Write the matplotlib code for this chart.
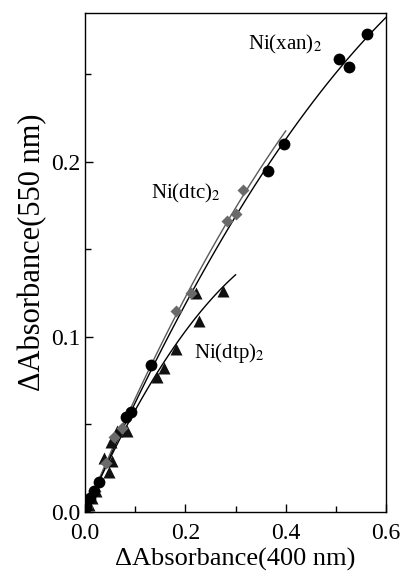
import numpy as np
import matplotlib.pyplot as plt
from matplotlib.ticker import MultipleLocator

plt.rcParams['font.family'] = ['Liberation Serif', 'DejaVu Serif']
plt.rcParams['mathtext.fontset'] = 'stix'

# Ni(xan)2 - circles
xan_x = [0.002, 0.010, 0.018, 0.028, 0.082, 0.092, 0.132, 0.364, 0.396, 0.506, 0.526, 0.562]
xan_y = [0.003, 0.008, 0.012, 0.017, 0.054, 0.057, 0.084, 0.195, 0.210, 0.259, 0.254, 0.273]

# Ni(dtc)2 - diamonds
dtc_x = [0.003, 0.020, 0.042, 0.058, 0.074, 0.182, 0.212, 0.282, 0.300, 0.314]
dtc_y = [0.003, 0.012, 0.028, 0.043, 0.048, 0.115, 0.125, 0.166, 0.170, 0.184]

# Ni(dtp)2 - triangles
dtp_x = [0.008, 0.014, 0.022, 0.038, 0.048, 0.052, 0.054, 0.064, 0.084, 0.144, 0.158, 0.182, 0.222, 0.228, 0.274]
dtp_y = [0.004, 0.008, 0.012, 0.031, 0.023, 0.040, 0.029, 0.046, 0.046, 0.077, 0.082, 0.093, 0.125, 0.109, 0.126]

# x range covered by each fitted curve
xan_fit_end = 0.60
dtc_fit_end = 0.40
dtp_fit_end = 0.30


def fit_curve(x, y, x_end):
    # quadratic through the origin: y = a*x + b*x^2
    x = np.asarray(x)
    y = np.asarray(y)
    A = np.column_stack([x, x ** 2])
    (a, b), *_ = np.linalg.lstsq(A, y, rcond=None)
    xs = np.linspace(0, x_end, 100)
    return xs, a * xs + b * xs ** 2


fig = plt.figure(figsize=(4.03, 5.73), dpi=100)
ax = fig.add_axes([0.211, 0.1065, 0.747, 0.8705])

for xs_, ys_, end, col in [(xan_x, xan_y, xan_fit_end, 'black'),
                           (dtc_x, dtc_y, dtc_fit_end, '#5a5a5a'),
                           (dtp_x, dtp_y, dtp_fit_end, 'black')]:
    fx, fy = fit_curve(xs_, ys_, end)
    ax.plot(fx, fy, color=col, lw=1.0, zorder=2)

ax.plot(dtp_x, dtp_y, '^', color='#111111', ms=8, mec='none', zorder=3)
ax.plot(dtc_x, dtc_y, 'D', color='#6a6a6a', ms=6.5, mec='none', zorder=4)
ax.plot(xan_x, xan_y, 'o', color='black', ms=8.5, mec='none', zorder=5)

ax.text(0.324, 0.267, r'Ni(xan)$_2$', fontsize=15, va='center')
ax.text(0.132, 0.182, r'Ni(dtc)$_2$', fontsize=15, va='center')
ax.text(0.218, 0.091, r'Ni(dtp)$_2$', fontsize=15, va='center')

ax.set_xlim(0, 0.6)
ax.set_ylim(0, 0.285)
ax.xaxis.set_major_locator(MultipleLocator(0.2))
ax.xaxis.set_minor_locator(MultipleLocator(0.1))
ax.yaxis.set_major_locator(MultipleLocator(0.1))
ax.yaxis.set_minor_locator(MultipleLocator(0.05))
ax.xaxis.set_major_formatter(plt.FormatStrFormatter('%.1f'))
ax.yaxis.set_major_formatter(plt.FormatStrFormatter('%.1f'))
ax.tick_params(which='both', direction='in', top=False, right=False, labelsize=17)
ax.tick_params(which='major', length=6, width=1)
ax.tick_params(which='minor', length=4, width=1)
ax.tick_params(axis='x', pad=8)
ax.tick_params(axis='y', pad=3)
for s in ax.spines.values():
    s.set_linewidth(1.0)

ax.set_xlabel('ΔAbsorbance(400 nm)', fontsize=19)
ax.xaxis.set_label_coords(0.5, -0.072)
ax.set_ylabel('ΔAbsorbance(550 nm)', fontsize=22)
ax.yaxis.set_label_coords(-0.125, 0.52)

fig.savefig('out.png', dpi=100)
